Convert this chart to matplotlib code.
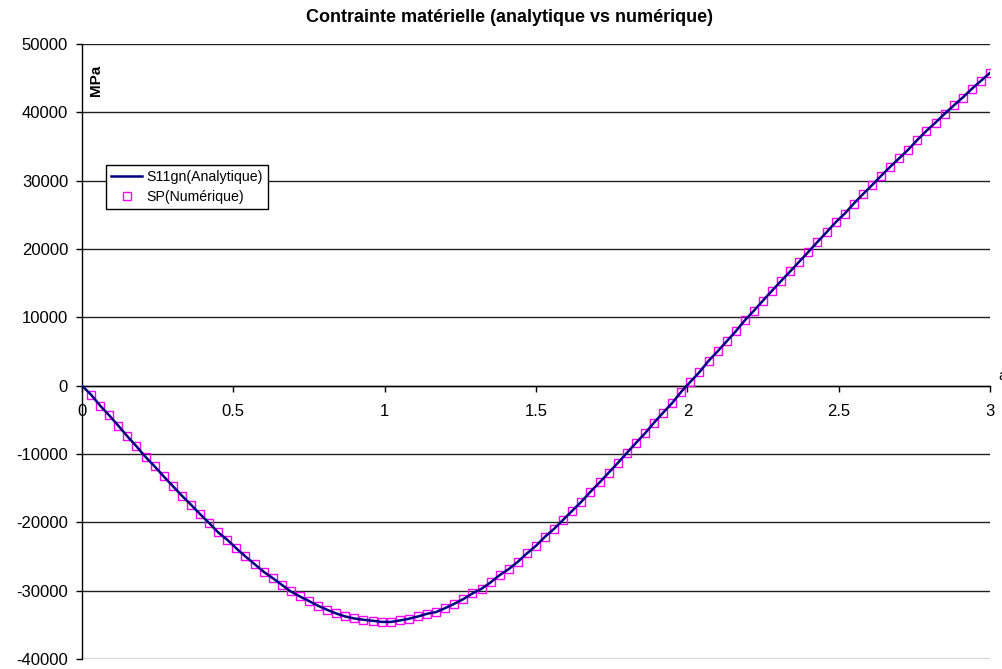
import matplotlib
matplotlib.use('Agg')
import matplotlib.pyplot as plt
import numpy as np

plt.rcParams['font.family'] = ['Liberation Sans', 'DejaVu Sans']
plt.rcParams['axes.unicode_minus'] = False

# abscisse (pas de 0.03)
x_num = [round(0.03 * i, 2) for i in range(1, 101)]

# contrainte numerique (MPa)
sp_num = [
    -1320, -2930, -4350, -5860, -7420, -8880, -10440, -11810, -13280, -14690,
    -16100, -17420, -18790, -20100, -21480, -22550, -23820, -24990, -26110, -27230,
    -28160, -29140, -30120, -30850, -31520, -32210, -32800, -33340, -33780, -34070,
    -34260, -34410, -34570, -34580, -34360, -34110, -33780, -33380, -33130, -32550,
    -31920, -31230, -30410, -29720, -28790, -27720, -26840, -25770, -24550, -23430,
    -22100, -20940, -19620, -18300, -16980, -15520, -14160, -12740, -11320, -9850,
    -8390, -6980, -5420, -3950, -2530, -880, 560, 1980, 3620, 5020,
    6490, 7950, 9560, 10980, 12450, 13910, 15330, 16730, 18160, 19580,
    21040, 22450, 23910, 25180, 26650, 28010, 29330, 30700, 32020, 33280,
    34550, 35970, 37290, 38510, 39780, 41000, 42170, 43440, 44610, 45780,
]

# solution analytique : meme courbe, depart a l'origine
x_ana = [0.0] + x_num
s11_ana = [0] + sp_num

fig = plt.figure(figsize=(10.02, 6.69), dpi=100)
ax = fig.add_axes([82 / 1002, 10 / 669, 908 / 1002, 615 / 669])

ax.plot(x_num, sp_num, linestyle='none', marker='s', markersize=5.5,
        markerfacecolor='none', markeredgecolor='#ff00ff', markeredgewidth=1,
        label='SP(Numérique)', zorder=3)
ax.plot(x_ana, s11_ana, color='#000080', linewidth=1.8,
        label='S11gn(Analytique)', zorder=4)

ax.set_xlim(0, 3)
ax.set_ylim(-40000, 50000)
ax.set_yticks(np.arange(-40000, 50001, 10000))
ax.set_xticks([0, 0.5, 1, 1.5, 2, 2.5, 3])
ax.set_xticklabels(['0', '0.5', '1', '1.5', '2', '2.5', '3'])

ax.yaxis.grid(True, color='#202020', linewidth=1)
ax.set_axisbelow(True)

for s in ['top', 'right']:
    ax.spines[s].set_visible(False)
ax.spines['bottom'].set_position(('data', 0))
ax.spines['left'].set_linewidth(1)
ax.spines['bottom'].set_linewidth(1)

ax.tick_params(axis='y', direction='out', length=4, width=1, pad=6, labelsize=12)
ax.tick_params(axis='x', direction='out', length=4, width=1, pad=9, labelsize=12)

ax.text(0.045, 47000, 'MPa', rotation=90, fontsize=11, fontweight='bold',
        ha='center', va='top')
# titre d'axe x coupe au bord, comme sur l'original
fig.text(998 / 1002, 1 - 376 / 669, 'a', fontsize=11, ha='left', va='center')

fig.text(509 / 1002, 1 - 17 / 669, 'Contrainte matérielle (analytique vs numérique)',
         fontsize=13, fontweight='bold', ha='center', va='center')

h, l = ax.get_legend_handles_labels()
leg = ax.legend([h[1], h[0]], [l[1], l[0]], loc='upper left',
                bbox_to_anchor=(106 / 1002, 1 - 165 / 669),
                bbox_transform=fig.transFigure, fontsize=10.2, frameon=True,
                fancybox=False, framealpha=1, edgecolor='black',
                borderpad=0.35, handlelength=2.2, handletextpad=0.3,
                labelspacing=0.4, borderaxespad=0)
leg.get_frame().set_linewidth(1)

fig.savefig('out.png', dpi=100)
